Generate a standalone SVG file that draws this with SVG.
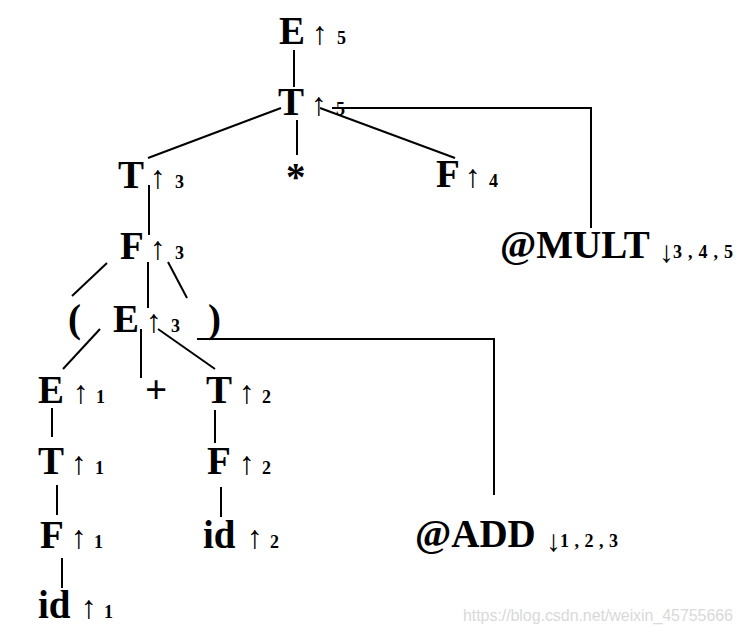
<svg xmlns="http://www.w3.org/2000/svg" width="744" height="634" viewBox="0 0 744 634">
<style>
.s{font-family:"Liberation Serif","Times New Roman",serif;font-weight:bold;font-size:39px;fill:#000}
.a{font-family:"Liberation Serif","DejaVu Serif",serif;font-weight:bold;font-size:32px;fill:#000}
.b{font-family:"Liberation Serif","DejaVu Serif",serif;font-size:30px;fill:#000}
.d{font-family:"Liberation Serif","Times New Roman",serif;font-weight:bold;font-size:18px;fill:#000}
.l{stroke:#000;stroke-width:2;fill:none}
.w{font-family:"Liberation Sans",Arial,sans-serif;font-size:16px;fill:#d9d9d9}
</style>
<rect width="744" height="634" fill="#fff"/>
<g id="connectors">
<line class="l" x1="294" y1="50" x2="294" y2="87"/>
<line class="l" x1="148" y1="158" x2="281" y2="108"/>
<line class="l" x1="297" y1="120" x2="297" y2="155"/>
<line class="l" x1="320" y1="108" x2="455" y2="158"/>
<polyline class="l" points="332,108 591,108 591,228"/>
<line class="l" x1="149" y1="185" x2="149" y2="235"/>
<line class="l" x1="107" y1="263" x2="72" y2="296"/>
<line class="l" x1="148" y1="262" x2="148" y2="308"/>
<line class="l" x1="168" y1="262" x2="187" y2="298"/>
<line class="l" x1="100" y1="329" x2="63" y2="369"/>
<line class="l" x1="141" y1="329" x2="141" y2="378"/>
<line class="l" x1="158" y1="329" x2="215" y2="369"/>
<polyline class="l" points="197,339 494,339 494,495"/>
<line class="l" x1="52" y1="408" x2="52" y2="437"/>
<line class="l" x1="57" y1="485" x2="57" y2="515"/>
<line class="l" x1="62" y1="558" x2="62" y2="588"/>
<line class="l" x1="215" y1="410" x2="215" y2="443"/>
<line class="l" x1="221" y1="487" x2="221" y2="517"/>
</g>
<g id="E5"><text class="s" x="279" y="44">E</text><text class="a" x="312" y="44">↑</text><text class="d" x="337" y="44">5</text></g>
<g id="T5"><text class="s" x="278" y="115">T</text><text class="a" x="311" y="115">↑</text><text class="d" x="336" y="115">5</text></g>
<g id="T3"><text class="s" x="118" y="188">T</text><text class="a" x="150" y="188">↑</text><text class="d" x="175" y="188">3</text></g>
<g id="star"><text class="s" x="286" y="190">*</text></g>
<g id="F4"><text class="s" x="436" y="187">F</text><text class="a" x="465" y="187">↑</text><text class="d" x="489" y="187">4</text></g>
<g id="F3"><text class="s" x="120" y="259">F</text><text class="a" x="150" y="259">↑</text><text class="d" x="175" y="259">3</text></g>
<g id="lparen"><text class="s" x="68" y="332">(</text></g>
<g id="E3"><text class="s" x="113" y="332">E</text><text class="a" x="146" y="332">↑</text><text class="d" x="171" y="332">3</text></g>
<g id="rparen"><text class="s" x="208" y="332">)</text></g>
<g id="E1"><text class="s" x="38" y="403">E</text><text class="a" x="73" y="403">↑</text><text class="d" x="96" y="403">1</text></g>
<g id="plus"><text class="s" x="145" y="403">+</text></g>
<g id="T2"><text class="s" x="206" y="403">T</text><text class="a" x="239" y="403">↑</text><text class="d" x="262" y="403">2</text></g>
<g id="T1"><text class="s" x="38" y="474">T</text><text class="a" x="71" y="474">↑</text><text class="d" x="95" y="474">1</text></g>
<g id="F2"><text class="s" x="207" y="474">F</text><text class="a" x="239" y="474">↑</text><text class="d" x="262" y="474">2</text></g>
<g id="F1"><text class="s" x="40" y="548">F</text><text class="a" x="71" y="548">↑</text><text class="d" x="94" y="548">1</text></g>
<g id="id2"><text class="s" x="203" y="548">id</text><text class="a" x="247" y="548">↑</text><text class="d" x="270" y="548">2</text></g>
<g id="id1"><text class="s" x="38" y="618">id</text><text class="a" x="81" y="618">↑</text><text class="d" x="104" y="618">1</text></g>
<g id="MULT"><text class="s" x="500" y="258">@MULT</text><text class="b" x="659" y="262">↓</text><text class="d" x="673" y="258" textLength="60">3 , 4 , 5</text></g>
<g id="ADD"><text class="s" x="415" y="547">@ADD</text><text class="b" x="546" y="551">↓</text><text class="d" x="560" y="547" textLength="58">1 , 2 , 3</text></g>
<text class="w" x="463" y="621" textLength="270">https://blog.csdn.net/weixin_45755666</text>
</svg>
